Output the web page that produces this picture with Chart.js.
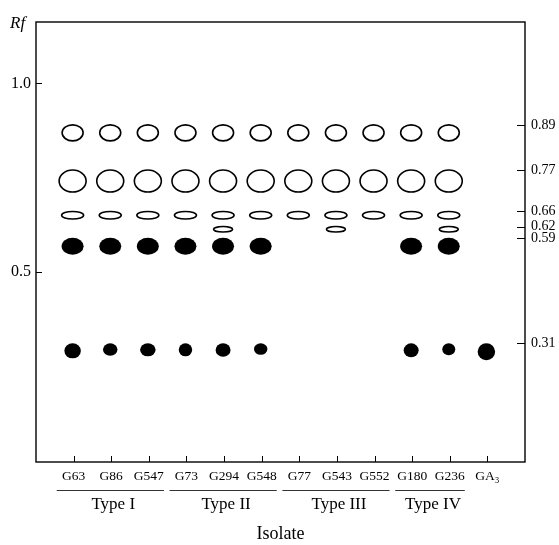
<!DOCTYPE html>
<html>
<head>
<meta charset="utf-8">
<script src="https://cdn.jsdelivr.net/npm/chart.js@4.4.1/dist/chart.umd.min.js"></script>
<style>
  body { margin: 0; background: #fff; }
  #wrap { width: 559px; height: 545px; }
</style>
</head>
<body>
<div id="wrap"><canvas id="grafico"></canvas></div>
<script>
// datos del cromatograma (orden de carriles)
const lanes = ["G63", "G86", "G547", "G73", "G294", "G548", "G77", "G543", "G552", "G180", "G236", "GA₃"];
const groups = ["Type I", "Type II", "Type III", "Type IV"];
const groupFirst = [0, 3, 6, 9];
const groupLast = [2, 5, 8, 10];
const leftTicks = [0.5, 1.0];
const rfTicks = [0.89, 0.77, 0.66, 0.62, 0.59, 0.31];

// 1 = mancha presente en ese carril
const band089 = [1, 1, 1, 1, 1, 1, 1, 1, 1, 1, 1, 0];
const band077 = [1, 1, 1, 1, 1, 1, 1, 1, 1, 1, 1, 0];
const band066 = [1, 1, 1, 1, 1, 1, 1, 1, 1, 1, 1, 0];
const band062 = [0, 0, 0, 0, 1, 0, 0, 1, 0, 0, 1, 0];
const band059 = [1, 1, 1, 1, 1, 1, 0, 0, 0, 1, 1, 0];
const band031 = [1, 1, 1, 1, 1, 1, 0, 0, 0, 1, 1, 1];

const bands = [
  { rf: 0.89, spots: band089 },
  { rf: 0.77, spots: band077 },
  { rf: 0.66, spots: band066 },
  { rf: 0.62, spots: band062 },
  { rf: 0.59, spots: band059 },
  { rf: 0.31, spots: band031 },
];

// estilo de las manchas (ancho, alto en px, relleno)
const spotStyle = [
  { w: 21, h: 16, fill: false },
  { w: 27, h: 22, fill: false },
  { w: 22, h: 7.5, fill: false },
  { w: 19, h: 5.5, fill: false },
  { w: 22, h: 17, fill: true },
  { w: 15, h: 13, fill: true },
];
const spot031W = [16.5, 14.5, 15.5, 13.5, 15, 13.5, 0, 0, 0, 15, 13, 17.5];
const spot031H = [15, 12.5, 13, 13, 13.5, 11.5, 0, 0, 0, 14, 12, 17];

const serif = "'Liberation Serif', 'DejaVu Serif', serif";
const canvas = document.getElementById("grafico");

const datasets = bands.map((b, k) => ({
  label: "Rf " + b.rf,
  data: b.spots.map((s, i) => (s ? { x: i, y: b.rf } : null)).filter((p) => p),
  pointRadius: 0,
  pointHoverRadius: 0,
  showLine: false,
}));

// dibujo de manchas, marco y rotulos extra
const tlcPlugin = {
  id: "tlc",
  afterDatasetsDraw(chart) {
    const { ctx, chartArea: a, scales } = chart;
    ctx.save();
    ctx.strokeStyle = "#000";
    ctx.fillStyle = "#000";

    // manchas: el punto marca el frente, la mancha cuelga hacia abajo
    chart.data.datasets.forEach((ds, k) => {
      const meta = chart.getDatasetMeta(k);
      const st = spotStyle[k];
      meta.data.forEach((pt, j) => {
        const lane = ds.data[j].x;
        let w = st.w, h = st.h;
        if (k === 5) { w = spot031W[lane]; h = spot031H[lane]; }
        ctx.beginPath();
        ctx.ellipse(pt.x - 1, pt.y + h / 2, w / 2, h / 2, 0, 0, Math.PI * 2);
        if (st.fill) {
          ctx.fill();
        } else {
          ctx.lineWidth = 1.6;
          ctx.stroke();
        }
      });
    });

    // marco
    ctx.lineWidth = 1.4;
    ctx.strokeRect(a.left, a.top, a.right - a.left, a.bottom - a.top);

    // marcas hacia dentro
    ctx.lineWidth = 1;
    ctx.beginPath();
    leftTicks.forEach((v) => {
      const y = Math.round(scales.y.getPixelForValue(v)) + 0.5;
      ctx.moveTo(a.left, y);
      ctx.lineTo(a.left + 6, y);
    });
    rfTicks.forEach((v) => {
      const y = Math.round(scales.y2.getPixelForValue(v)) + 0.5;
      ctx.moveTo(a.right - 8, y);
      ctx.lineTo(a.right, y);
    });
    lanes.forEach((_, i) => {
      const x = Math.round(scales.x.getPixelForValue(i)) + 0.5;
      ctx.moveTo(x, a.bottom);
      ctx.lineTo(x, a.bottom - 6);
    });
    ctx.stroke();

    // Rf
    ctx.font = "italic 17px " + serif;
    ctx.textAlign = "left";
    ctx.textBaseline = "alphabetic";
    ctx.fillText("Rf", 10, 28);

    // grupos
    ctx.strokeStyle = "#333";
    ctx.lineWidth = 1.2;
    ctx.font = "17px " + serif;
    ctx.textAlign = "center";
    ctx.textBaseline = "middle";
    groups.forEach((g, i) => {
      const x0 = scales.x.getPixelForValue(groupFirst[i] - 0.45);
      const x1 = scales.x.getPixelForValue(groupLast[i] + 0.4);
      ctx.beginPath();
      ctx.moveTo(x0, 490.5);
      ctx.lineTo(x1, 490.5);
      ctx.stroke();
      const xm = (scales.x.getPixelForValue(groupFirst[i]) + scales.x.getPixelForValue(groupLast[i])) / 2;
      ctx.fillText(g, xm + 2, 505);
    });
    ctx.restore();
  },
};

new Chart(canvas, {
  type: "scatter",
  data: { datasets },
  plugins: [tlcPlugin],
  options: {
    responsive: true,
    maintainAspectRatio: false,
    animation: false,
    layout: { padding: { top: 22, left: 0, right: 0, bottom: 0 } },
    plugins: { legend: { display: false }, tooltip: { enabled: false } },
    scales: {
      x: {
        type: "linear",
        min: -1,
        max: 12,
        afterBuildTicks: (s) => { s.ticks = lanes.map((_, i) => ({ value: i })); },
        afterFit: (s) => { s.height = 83; },
        grid: { display: false, drawTicks: false },
        border: { display: false },
        ticks: {
          padding: 6,
          maxRotation: 0,
          autoSkip: false,
          color: "#000",
          font: { family: serif, size: 13.5 },
          callback: (v) => lanes[v],
        },
        title: {
          display: true,
          text: "Isolate",
          color: "#000",
          padding: { top: 0, bottom: 0 },
          font: { family: serif, size: 18 },
        },
      },
      y: {
        position: "left",
        min: -0.005,
        max: 1.163,
        afterBuildTicks: (s) => { s.ticks = leftTicks.map((v) => ({ value: v })); },
        afterFit: (s) => { s.width = 36; },
        grid: { display: false, drawTicks: false },
        border: { display: false },
        ticks: {
          padding: 5,
          color: "#000",
          font: { family: serif, size: 16 },
          callback: (v) => v.toFixed(1),
        },
      },
      y2: {
        position: "right",
        min: -0.005,
        max: 1.163,
        afterBuildTicks: (s) => { s.ticks = rfTicks.map((v) => ({ value: v })); },
        afterFit: (s) => { s.width = 34; },
        grid: { display: false, drawTicks: false },
        border: { display: false },
        ticks: {
          padding: 6,
          color: "#000",
          font: { family: serif, size: 14 },
          callback: (v) => v.toFixed(2),
        },
      },
    },
  },
});
</script>
</body>
</html>
